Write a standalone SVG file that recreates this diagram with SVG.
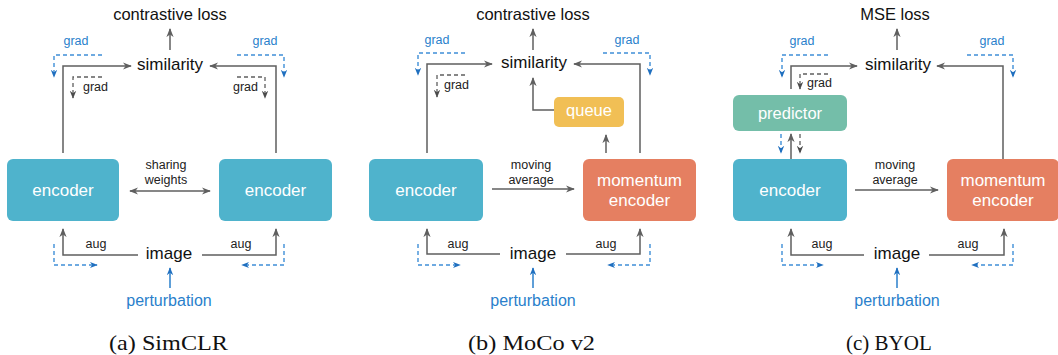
<svg xmlns="http://www.w3.org/2000/svg" width="1058" height="355" viewBox="0 0 1058 355">
  <style>
    .t { font-family: "Liberation Sans", Arial, sans-serif; fill: #111; }
    .big { font-size: 16.5px; }
    .box { font-size: 17px; fill: #ffffff; }
    .sm { font-size: 12.5px; fill: #222; }
    .bl { fill: #2a7fcb; }
    .cap { font-family: "Liberation Serif", "Times New Roman", serif; font-size: 21px; fill: #111; }
    .ln { fill: none; stroke: #5f5f5f; stroke-width: 1.5; }
    .arr { marker-end: url(#ah); }
    .dk { fill: none; stroke: #5f5f5f; stroke-width: 1.3; stroke-dasharray: 4 3; marker-end: url(#ahs); }
    .db { fill: none; stroke: #3f8fd8; stroke-width: 1.4; stroke-dasharray: 4 3; marker-end: url(#ahb); }
    .sb { fill: none; stroke: #2a7fcb; stroke-width: 1.5; marker-end: url(#ahb); }
    .enc { fill: #4fb3cc; }
    .mom { fill: #e57f61; }
    .que { fill: #f1bf55; }
    .pre { fill: #74bea9; }
  </style>
  <defs>
    <marker id="ah" viewBox="0 0 10 10" refX="9" refY="5" markerWidth="9" markerHeight="9" markerUnits="userSpaceOnUse" orient="auto">
      <path d="M0,1 L10,5 L0,9 L3,5 z" fill="#5f5f5f"/>
    </marker>
    <marker id="ahs" viewBox="0 0 10 10" refX="9" refY="5" markerWidth="8" markerHeight="8" markerUnits="userSpaceOnUse" orient="auto">
      <path d="M0,1 L10,5 L0,9 L3,5 z" fill="#4a4a4a"/>
    </marker>
    <marker id="ahb" viewBox="0 0 10 10" refX="9" refY="5" markerWidth="8" markerHeight="8" markerUnits="userSpaceOnUse" orient="auto">
      <path d="M0,1 L10,5 L0,9 L3,5 z" fill="#1f6fbf"/>
    </marker>
    <marker id="ahst" viewBox="0 0 10 10" refX="1" refY="5" markerWidth="9" markerHeight="9" markerUnits="userSpaceOnUse" orient="auto">
      <path d="M10,1 L0,5 L10,9 L7,5 z" fill="#5f5f5f"/>
    </marker>
  </defs>

  <!-- ================= (a) SimCLR ================= -->
  <g id="a-loss"><text class="t big" x="170" y="20" text-anchor="middle">contrastive loss</text></g>
  <g id="a-similarity"><text class="t big" x="170" y="70" text-anchor="middle" style="font-size:17px">similarity</text></g>
  <g id="a-encoder-left">
    <rect class="enc" x="7" y="159" width="112" height="62" rx="6"/>
    <text class="t box" x="63" y="196" text-anchor="middle">encoder</text>
  </g>
  <g id="a-encoder-right">
    <rect class="enc" x="219" y="159" width="113" height="62" rx="6"/>
    <text class="t box" x="275.5" y="196" text-anchor="middle">encoder</text>
  </g>
  <g id="a-image"><text class="t" x="169" y="259" text-anchor="middle" style="font-size:17px">image</text></g>
  <g id="a-perturbation"><text class="t bl" x="169" y="306" text-anchor="middle" style="font-size:16px">perturbation</text></g>

  <g id="a-connectors">
    <path class="ln arr" d="M170,50 V29"/>
    <path class="ln arr" d="M63,153 V66 H131"/>
    <path class="ln arr" d="M276,153 V66 H210"/>
    <path class="ln arr" d="M138,255 H63 V229"/>
    <path class="ln arr" d="M202,255 H276 V229"/>
    <path class="ln arr" d="M130,191 H210" marker-start="url(#ahst)"/>
    <path class="sb" d="M170,288 V268"/>
    <path class="db" d="M102,55 H54 V77"/>
    <path class="db" d="M237,55 H284 V77"/>
    <path class="dk" d="M102,77 H73 V98"/>
    <path class="dk" d="M237,77 H265 V98"/>
    <path class="db" d="M54,244 V265 H97"/>
    <path class="db" d="M284,244 V265 H242"/>
    <text class="t sm bl" x="76" y="45" text-anchor="middle">grad</text>
    <text class="t sm bl" x="265" y="45" text-anchor="middle">grad</text>
    <text class="t sm" x="83" y="91">grad</text>
    <text class="t sm" x="233" y="91">grad</text>
    <text class="t sm" x="166" y="169" text-anchor="middle">sharing</text>
    <text class="t sm" x="166" y="184" text-anchor="middle">weights</text>
    <text class="t sm" x="96" y="248" text-anchor="middle">aug</text>
    <text class="t sm" x="241" y="248" text-anchor="middle">aug</text>
  </g>

  <!-- ================= (b) MoCo v2 ================= -->
  <g id="b-loss"><text class="t big" x="533" y="20" text-anchor="middle">contrastive loss</text></g>
  <g id="b-similarity"><text class="t big" x="534" y="68" text-anchor="middle" style="font-size:17px">similarity</text></g>
  <g id="b-queue">
    <rect class="que" x="554" y="97" width="70" height="30" rx="5"/>
    <text class="t box" x="589" y="116" text-anchor="middle" style="font-size:16.5px">queue</text>
  </g>
  <g id="b-encoder">
    <rect class="enc" x="369" y="159" width="114" height="62" rx="6"/>
    <text class="t box" x="426" y="196" text-anchor="middle">encoder</text>
  </g>
  <g id="b-momentum-encoder">
    <rect class="mom" x="583" y="159" width="113" height="62" rx="6"/>
    <text class="t box" x="639.5" y="186" text-anchor="middle">momentum</text>
    <text class="t box" x="639.5" y="206" text-anchor="middle">encoder</text>
  </g>
  <g id="b-image"><text class="t" x="533" y="259" text-anchor="middle" style="font-size:17px">image</text></g>
  <g id="b-perturbation"><text class="t bl" x="533" y="306" text-anchor="middle" style="font-size:16px">perturbation</text></g>

  <g id="b-connectors">
    <path class="ln arr" d="M533,50 V29"/>
    <path class="ln arr" d="M427,153 V64 H492"/>
    <path class="ln arr" d="M640,153 V64 H574"/>
    <path class="ln arr" d="M554,110 H533 V78"/>
    <path class="ln arr" d="M606,153 V135"/>
    <path class="ln arr" d="M492,189 H574"/>
    <path class="ln arr" d="M500,254 H427 V229"/>
    <path class="ln arr" d="M566,254 H640 V229"/>
    <path class="sb" d="M533,288 V268"/>
    <path class="db" d="M465,53 H418 V75"/>
    <path class="db" d="M603,53 H650 V75"/>
    <path class="dk" d="M465,75 H437 V97"/>
    <path class="db" d="M418,244 V265 H460"/>
    <path class="db" d="M650,244 V265 H608"/>
    <text class="t sm bl" x="437" y="44" text-anchor="middle">grad</text>
    <text class="t sm bl" x="627" y="44" text-anchor="middle">grad</text>
    <text class="t sm" x="444" y="89">grad</text>
    <text class="t sm" x="531" y="169" text-anchor="middle">moving</text>
    <text class="t sm" x="531" y="184" text-anchor="middle">average</text>
    <text class="t sm" x="458" y="248" text-anchor="middle">aug</text>
    <text class="t sm" x="606" y="248" text-anchor="middle">aug</text>
  </g>

  <!-- ================= (c) BYOL ================= -->
  <g id="c-loss"><text class="t big" x="895" y="20" text-anchor="middle">MSE loss</text></g>
  <g id="c-similarity"><text class="t big" x="898" y="70" text-anchor="middle" style="font-size:17px">similarity</text></g>
  <g id="c-predictor">
    <rect class="pre" x="733" y="95" width="114" height="36" rx="6"/>
    <text class="t box" x="790" y="119" text-anchor="middle" style="font-size:16.5px">predictor</text>
  </g>
  <g id="c-encoder">
    <rect class="enc" x="733" y="159" width="114" height="62" rx="6"/>
    <text class="t box" x="790" y="196" text-anchor="middle">encoder</text>
  </g>
  <g id="c-momentum-encoder">
    <rect class="mom" x="947" y="159" width="112" height="62" rx="6"/>
    <text class="t box" x="1003" y="186" text-anchor="middle">momentum</text>
    <text class="t box" x="1003" y="206" text-anchor="middle">encoder</text>
  </g>
  <g id="c-image"><text class="t" x="897" y="259" text-anchor="middle" style="font-size:17px">image</text></g>
  <g id="c-perturbation"><text class="t bl" x="897" y="306" text-anchor="middle" style="font-size:16px">perturbation</text></g>

  <g id="c-connectors">
    <path class="ln arr" d="M897,50 V29"/>
    <path class="ln arr" d="M791,89 V66 H857"/>
    <path class="ln arr" d="M1003,159 V66 H937"/>
    <path class="ln arr" d="M791,159 V134"/>
    <path class="db" d="M781,134 V153"/>
    <path class="dk" d="M800,134 V153"/>
    <path class="ln arr" d="M855,190 H938"/>
    <path class="ln arr" d="M864,255 H791 V229"/>
    <path class="ln arr" d="M929,255 H1004 V229"/>
    <path class="sb" d="M897,288 V268"/>
    <path class="db" d="M828,55 H782 V77"/>
    <path class="db" d="M967,55 H1013 V77"/>
    <path class="dk" d="M828,74 H800 V89"/>
    <path class="db" d="M782,244 V265 H823"/>
    <path class="db" d="M1013,244 V265 H972"/>
    <text class="t sm bl" x="802" y="45" text-anchor="middle">grad</text>
    <text class="t sm bl" x="992" y="45" text-anchor="middle">grad</text>
    <text class="t sm" x="807" y="87">grad</text>
    <text class="t sm" x="895" y="169" text-anchor="middle">moving</text>
    <text class="t sm" x="895" y="184" text-anchor="middle">average</text>
    <text class="t sm" x="822" y="248" text-anchor="middle">aug</text>
    <text class="t sm" x="968" y="248" text-anchor="middle">aug</text>
  </g>

  <!-- sub-figure captions -->
  <text class="cap" x="109" y="350" textLength="119" lengthAdjust="spacingAndGlyphs">(a) SimCLR</text>
  <text class="cap" x="468" y="350" textLength="127" lengthAdjust="spacingAndGlyphs">(b) MoCo v2</text>
  <text class="cap" x="846" y="350">(c) BYOL</text>
</svg>
